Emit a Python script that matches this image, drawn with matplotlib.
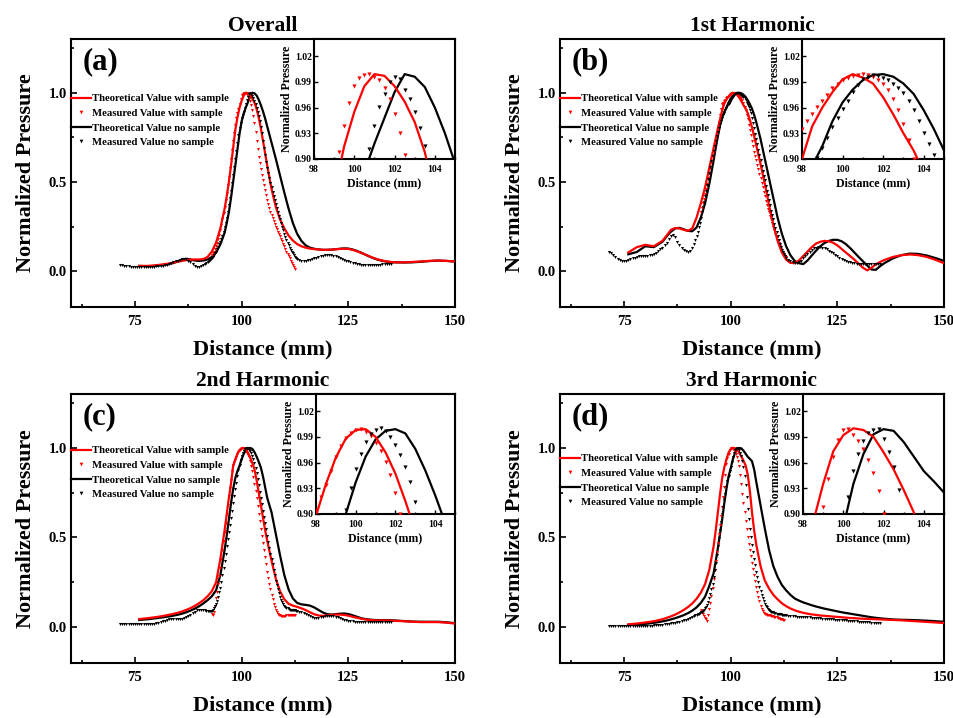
import numpy as np
import matplotlib.pyplot as plt
from matplotlib.ticker import MultipleLocator, AutoMinorLocator, FormatStrFormatter

plt.rcParams['font.family'] = ['Liberation Serif', 'DejaVu Serif']
plt.rcParams['font.weight'] = 'bold'
plt.rcParams['axes.labelweight'] = 'bold'
plt.rcParams['axes.titleweight'] = 'bold'
plt.rcParams['axes.linewidth'] = 1.5

# 理论曲线共用的横坐标 (mm)
theory_x = [76, 78, 80, 82, 84,
            85, 86, 87, 88, 89, 90, 91, 92, 93, 94, 95, 96,
            96.5, 97, 97.5, 98, 98.5, 99, 99.5, 100, 100.5, 101,
            101.5, 102, 102.5, 103, 103.5, 104, 104.5, 105, 105.5, 106,
            107, 108, 109, 110, 111, 112, 113, 114, 115, 116, 117, 118,
            119, 120, 121, 122, 123, 124, 125, 126, 127, 128, 129, 130,
            131, 132, 133, 134, 135, 136,
            138, 140, 142, 144, 146, 148, 150]

# 测量点: 有样品 93 mm 起步长 0.25 mm;
# 无样品分三段: 71.5 mm 起 0.5 mm, 91.75 mm 起 0.25 mm, 113.5 mm 起 0.5 mm
ms_start, ms_step = 93.0, 0.25
mn_starts = [71.5, 91.75, 113.5]
mn_steps = [0.5, 0.25, 0.5]

# ---------------- (a) Overall ----------------
ts_a = [0.030, 0.030, 0.034, 0.040, 0.048,
        0.053, 0.058, 0.062, 0.065, 0.066, 0.066, 0.068, 0.080, 0.110, 0.160, 0.240, 0.350,
        0.420, 0.500, 0.590, 0.690, 0.790, 0.860, 0.915, 0.955, 0.985, 0.999,
        0.997, 0.985, 0.967, 0.943, 0.908, 0.860, 0.800, 0.730, 0.660, 0.590,
        0.460, 0.360, 0.290, 0.240, 0.200, 0.172, 0.152, 0.140, 0.132, 0.127, 0.124, 0.122,
        0.120, 0.120, 0.121, 0.123, 0.125, 0.126, 0.125, 0.120, 0.112, 0.103, 0.093, 0.083,
        0.074, 0.066, 0.060, 0.055, 0.052, 0.050,
        0.050, 0.052, 0.055, 0.058, 0.060, 0.058, 0.055]
tn_a = [0.030, 0.028, 0.030, 0.036, 0.046,
        0.056, 0.066, 0.070, 0.066, 0.060, 0.058, 0.060, 0.066, 0.080, 0.105, 0.150, 0.215,
        0.270, 0.330, 0.410, 0.500, 0.590, 0.680, 0.770, 0.840, 0.885, 0.918,
        0.948, 0.978, 0.999, 0.996, 0.984, 0.960, 0.930, 0.895, 0.855, 0.810,
        0.720, 0.630, 0.535, 0.440, 0.350, 0.270, 0.210, 0.170, 0.145, 0.132, 0.126, 0.122,
        0.120, 0.120, 0.121, 0.123, 0.126, 0.128, 0.127, 0.122, 0.114, 0.104, 0.093, 0.082,
        0.072, 0.064, 0.058, 0.054, 0.051, 0.050,
        0.049, 0.050, 0.053, 0.057, 0.060, 0.058, 0.054]
ms_a = [0.090, 0.100, 0.110, 0.124, 0.140, 0.158, 0.180, 0.204, 0.230, 0.259,
        0.290, 0.324, 0.360, 0.399, 0.440, 0.484, 0.530, 0.580, 0.630, 0.680,
        0.730, 0.776, 0.820, 0.856, 0.884, 0.908, 0.938, 0.965, 0.985, 0.994,
        0.998, 0.999, 0.996, 0.992, 0.983, 0.970, 0.952, 0.930, 0.905, 0.870,
        0.830, 0.780, 0.730, 0.684, 0.640, 0.604, 0.570, 0.540, 0.510, 0.482,
        0.455, 0.427, 0.400, 0.377, 0.355, 0.334, 0.315, 0.297, 0.280, 0.265,
        0.250, 0.235, 0.220, 0.207, 0.195, 0.183, 0.170, 0.155, 0.140, 0.125,
        0.110, 0.097, 0.085, 0.072, 0.060, 0.047, 0.035, 0.022, 0.010]
mn_a_left = [0.037, 0.035, 0.032, 0.030, 0.028, 0.026, 0.025, 0.025,
             0.025, 0.025, 0.025, 0.025, 0.025, 0.025, 0.025, 0.025,
             0.026, 0.027, 0.028, 0.030, 0.032, 0.034, 0.037, 0.040,
             0.044, 0.050, 0.055, 0.060, 0.064, 0.068, 0.070, 0.068,
             0.060, 0.052, 0.040, 0.030, 0.025, 0.024, 0.027, 0.033,
             0.040]
mn_a_mid = [0.045, 0.050, 0.056, 0.062, 0.068, 0.075, 0.082, 0.090, 0.100, 0.110,
            0.122, 0.135, 0.150, 0.165, 0.182, 0.200, 0.221, 0.245, 0.271, 0.300,
            0.334, 0.370, 0.409, 0.450, 0.495, 0.540, 0.585, 0.630, 0.675, 0.720,
            0.762, 0.800, 0.832, 0.860, 0.877, 0.893, 0.912, 0.938, 0.961, 0.976,
            0.990, 0.996, 0.993, 0.981, 0.970, 0.955, 0.936, 0.915, 0.893, 0.870,
            0.842, 0.810, 0.772, 0.730, 0.690, 0.650, 0.614, 0.580, 0.549, 0.520,
            0.494, 0.470, 0.445, 0.420, 0.397, 0.375, 0.352, 0.330, 0.310, 0.290,
            0.270, 0.250, 0.230, 0.210, 0.192, 0.175, 0.160, 0.145, 0.132, 0.120,
            0.110, 0.100, 0.091, 0.082, 0.076, 0.070]
mn_a_right = [0.063, 0.060, 0.060, 0.060, 0.062, 0.065, 0.069, 0.073, 0.077, 0.081,
              0.084, 0.087, 0.089, 0.090, 0.090, 0.089, 0.087, 0.084, 0.080, 0.075,
              0.070, 0.065, 0.060, 0.055, 0.051, 0.047, 0.044, 0.041, 0.039, 0.037,
              0.036, 0.035, 0.035, 0.035, 0.035, 0.036, 0.036, 0.037, 0.037, 0.038,
              0.038, 0.039, 0.039, 0.040]

# ---------------- (b) 1st Harmonic ----------------
ts_b = [0.105, 0.135, 0.148, 0.140, 0.170,
        0.200, 0.232, 0.242, 0.240, 0.232, 0.226, 0.240, 0.300, 0.380, 0.470, 0.580, 0.690,
        0.745, 0.800, 0.850, 0.900, 0.938, 0.960, 0.978, 0.993, 0.999, 0.995,
        0.988, 0.972, 0.952, 0.930, 0.910, 0.885, 0.848, 0.805, 0.757, 0.705,
        0.600, 0.490, 0.370, 0.260, 0.170, 0.105, 0.065, 0.047, 0.045, 0.060, 0.085, 0.110,
        0.135, 0.155, 0.165, 0.170, 0.168, 0.160, 0.145, 0.125, 0.105, 0.085, 0.065, 0.042,
        0.020, 0.005, 0.020, 0.038, 0.052, 0.063,
        0.080, 0.090, 0.094, 0.090, 0.080, 0.064, 0.045]
tn_b = [0.095, 0.108, 0.140, 0.135, 0.165,
        0.195, 0.222, 0.240, 0.243, 0.235, 0.226, 0.224, 0.245, 0.300, 0.380, 0.490, 0.620,
        0.690, 0.755, 0.815, 0.862, 0.892, 0.915, 0.944, 0.966, 0.981, 0.992,
        0.998, 0.999, 0.996, 0.988, 0.976, 0.957, 0.935, 0.910, 0.875, 0.835,
        0.740, 0.630, 0.520, 0.410, 0.300, 0.210, 0.140, 0.090, 0.058, 0.045, 0.040, 0.060,
        0.088, 0.115, 0.140, 0.158, 0.170, 0.176, 0.176, 0.168, 0.152, 0.130, 0.105, 0.080,
        0.056, 0.032, 0.010, 0.008, 0.028, 0.045,
        0.072, 0.090, 0.099, 0.097, 0.088, 0.074, 0.058]
ms_b = [0.330, 0.355, 0.380, 0.405, 0.430, 0.460, 0.490, 0.520, 0.550, 0.580,
        0.610, 0.640, 0.670, 0.700, 0.730, 0.760, 0.790, 0.835, 0.875, 0.910,
        0.935, 0.944, 0.952, 0.961, 0.968, 0.975, 0.983, 0.988, 0.992, 0.995,
        0.997, 0.998, 0.999, 0.998, 0.996, 0.992, 0.988, 0.980, 0.970, 0.957,
        0.941, 0.922, 0.900, 0.876, 0.850, 0.820, 0.790, 0.760, 0.730, 0.700,
        0.670, 0.645, 0.620, 0.595, 0.570, 0.545, 0.520, 0.495, 0.470, 0.445,
        0.420, 0.395, 0.370, 0.350, 0.330, 0.310, 0.290, 0.270, 0.250, 0.230,
        0.210, 0.192, 0.175, 0.157, 0.140, 0.125, 0.110, 0.100, 0.090, 0.085,
        0.080]
mn_b_left = [0.110, 0.100, 0.090, 0.080, 0.070, 0.062, 0.058, 0.056,
             0.058, 0.062, 0.067, 0.072, 0.076, 0.080, 0.083, 0.085,
             0.086, 0.087, 0.088, 0.090, 0.093, 0.098, 0.105, 0.113,
             0.122, 0.132, 0.145, 0.160, 0.178, 0.195, 0.203, 0.190,
             0.165, 0.145, 0.130, 0.120, 0.112, 0.108, 0.115, 0.130,
             0.155]
mn_b_mid = [0.175, 0.195, 0.220, 0.245, 0.272, 0.300, 0.330, 0.360, 0.390, 0.420,
            0.452, 0.485, 0.518, 0.550, 0.583, 0.615, 0.646, 0.675, 0.703, 0.730,
            0.756, 0.780, 0.803, 0.825, 0.843, 0.860, 0.875, 0.888, 0.901, 0.913,
            0.925, 0.937, 0.948, 0.958, 0.968, 0.978, 0.986, 0.993, 0.996, 0.998,
            0.997, 0.995, 0.992, 0.988, 0.983, 0.977, 0.968, 0.957, 0.944, 0.930,
            0.918, 0.905, 0.885, 0.860, 0.830, 0.800, 0.770, 0.740, 0.710, 0.680,
            0.650, 0.620, 0.590, 0.560, 0.535, 0.510, 0.480, 0.450, 0.425, 0.400,
            0.370, 0.340, 0.315, 0.290, 0.265, 0.240, 0.217, 0.195, 0.175, 0.155,
            0.137, 0.120, 0.107, 0.095, 0.084, 0.075]
mn_b_right = [0.062, 0.055, 0.050, 0.047, 0.048, 0.052, 0.060, 0.072, 0.085, 0.098,
              0.110, 0.120, 0.128, 0.133, 0.135, 0.135, 0.133, 0.129, 0.123, 0.116,
              0.108, 0.100, 0.092, 0.084, 0.077, 0.070, 0.064, 0.059, 0.054, 0.050,
              0.047, 0.045, 0.043, 0.042, 0.041, 0.040, 0.040, 0.040, 0.040, 0.040,
              0.040, 0.040, 0.040, 0.040]

# ---------------- (c) 2nd Harmonic ----------------
ts_c = [0.045, 0.050, 0.056, 0.064, 0.074,
        0.080, 0.087, 0.096, 0.106, 0.118, 0.133, 0.150, 0.172, 0.200, 0.250, 0.380, 0.540,
        0.630, 0.720, 0.800, 0.898, 0.935, 0.966, 0.988, 0.998, 0.999, 0.990,
        0.972, 0.947, 0.915, 0.880, 0.820, 0.750, 0.680, 0.610, 0.540, 0.480,
        0.370, 0.270, 0.200, 0.155, 0.130, 0.120, 0.113, 0.105, 0.095, 0.083, 0.072, 0.065,
        0.063, 0.065, 0.068, 0.070, 0.070, 0.068, 0.064, 0.058, 0.052, 0.047, 0.043, 0.040,
        0.038, 0.037, 0.037, 0.037, 0.036, 0.035,
        0.033, 0.030, 0.028, 0.028, 0.028, 0.025, 0.020]
tn_c = [0.040, 0.044, 0.050, 0.056, 0.064,
        0.069, 0.075, 0.083, 0.092, 0.103, 0.116, 0.132, 0.150, 0.172, 0.205, 0.290, 0.430,
        0.510, 0.600, 0.690, 0.770, 0.830, 0.870, 0.900, 0.937, 0.967, 0.987,
        0.997, 0.999, 0.994, 0.976, 0.951, 0.922, 0.890, 0.840, 0.780, 0.720,
        0.640, 0.520, 0.400, 0.290, 0.210, 0.160, 0.135, 0.127, 0.124, 0.120, 0.110, 0.096,
        0.082, 0.073, 0.070, 0.072, 0.075, 0.076, 0.073, 0.066, 0.058, 0.050, 0.045, 0.042,
        0.040, 0.039, 0.039, 0.039, 0.038, 0.037,
        0.034, 0.031, 0.030, 0.030, 0.030, 0.027, 0.022]
ms_c = [0.075, 0.065, 0.085, 0.120, 0.160, 0.198, 0.240, 0.285, 0.330, 0.380,
        0.430, 0.480, 0.530, 0.580, 0.630, 0.680, 0.730, 0.776, 0.820, 0.870,
        0.905, 0.920, 0.934, 0.950, 0.966, 0.979, 0.989, 0.995, 0.998, 0.999,
        0.996, 0.991, 0.983, 0.973, 0.961, 0.946, 0.925, 0.900, 0.870, 0.837,
        0.800, 0.760, 0.720, 0.675, 0.630, 0.590, 0.550, 0.510, 0.470, 0.430,
        0.390, 0.350, 0.310, 0.275, 0.240, 0.210, 0.180, 0.155, 0.130, 0.110,
        0.095, 0.084, 0.075, 0.070, 0.066, 0.064, 0.063, 0.063, 0.064, 0.064,
        0.065, 0.065, 0.066, 0.066, 0.067, 0.067, 0.068, 0.069, 0.070]
mn_c_left = [0.018, 0.017, 0.016, 0.016, 0.015, 0.015, 0.015, 0.015,
             0.015, 0.015, 0.015, 0.015, 0.015, 0.016, 0.017, 0.018,
             0.020, 0.022, 0.025, 0.028, 0.032, 0.036, 0.040, 0.044,
             0.046, 0.046, 0.045, 0.043, 0.043, 0.045, 0.050, 0.056,
             0.063, 0.070, 0.078, 0.086, 0.093, 0.097, 0.098, 0.096,
             0.093]
mn_c_mid = [0.092, 0.091, 0.090, 0.090, 0.090, 0.092, 0.097, 0.105, 0.116, 0.130,
            0.148, 0.170, 0.194, 0.220, 0.253, 0.290, 0.330, 0.370, 0.410, 0.450,
            0.490, 0.530, 0.570, 0.610, 0.650, 0.690, 0.730, 0.770, 0.806, 0.840,
            0.874, 0.905, 0.930, 0.952, 0.970, 0.984, 0.993, 0.998, 1.000, 0.997,
            0.990, 0.981, 0.969, 0.955, 0.937, 0.914, 0.889, 0.860, 0.826, 0.790,
            0.755, 0.720, 0.685, 0.650, 0.615, 0.580, 0.545, 0.510, 0.475, 0.440,
            0.410, 0.380, 0.350, 0.320, 0.290, 0.260, 0.234, 0.210, 0.189, 0.170,
            0.154, 0.140, 0.129, 0.120, 0.113, 0.108, 0.104, 0.100, 0.098, 0.097,
            0.096, 0.095, 0.094, 0.093, 0.092, 0.090]
mn_c_right = [0.087, 0.083, 0.078, 0.072, 0.066, 0.060, 0.056, 0.053, 0.052, 0.053,
              0.055, 0.058, 0.061, 0.063, 0.064, 0.064, 0.062, 0.059, 0.055, 0.050,
              0.046, 0.042, 0.039, 0.036, 0.034, 0.032, 0.031, 0.030, 0.030, 0.030,
              0.030, 0.030, 0.030, 0.030, 0.030, 0.030, 0.030, 0.030, 0.030, 0.030,
              0.030, 0.030, 0.030, 0.030]

# ---------------- (d) 3rd Harmonic ----------------
ts_d = [0.016, 0.020, 0.026, 0.033, 0.044,
        0.052, 0.060, 0.070, 0.082, 0.096, 0.112, 0.132, 0.158, 0.192, 0.240, 0.320, 0.450,
        0.540, 0.640, 0.740, 0.830, 0.890, 0.935, 0.973, 0.992, 1.000, 0.998,
        0.990, 0.972, 0.952, 0.928, 0.902, 0.850, 0.760, 0.640, 0.540, 0.460,
        0.340, 0.260, 0.215, 0.180, 0.155, 0.133, 0.117, 0.104, 0.094, 0.086, 0.080, 0.075,
        0.071, 0.068, 0.065, 0.063, 0.061, 0.059, 0.057, 0.055, 0.053, 0.051, 0.050, 0.048,
        0.047, 0.046, 0.045, 0.044, 0.043, 0.042,
        0.040, 0.038, 0.035, 0.032, 0.029, 0.026, 0.023]
tn_d = [0.012, 0.014, 0.018, 0.024, 0.032,
        0.037, 0.043, 0.050, 0.058, 0.067, 0.078, 0.092, 0.110, 0.135, 0.170, 0.230, 0.300,
        0.370, 0.440, 0.520, 0.600, 0.690, 0.770, 0.840, 0.885, 0.935, 0.970,
        0.993, 0.999, 0.997, 0.984, 0.967, 0.950, 0.938, 0.925, 0.880, 0.810,
        0.680, 0.550, 0.430, 0.340, 0.280, 0.235, 0.205, 0.180, 0.160, 0.148, 0.138, 0.130,
        0.122, 0.115, 0.109, 0.103, 0.098, 0.093, 0.088, 0.083, 0.079, 0.075, 0.071, 0.067,
        0.063, 0.059, 0.055, 0.052, 0.049, 0.047,
        0.043, 0.041, 0.040, 0.038, 0.036, 0.033, 0.030]
ms_d = [0.095, 0.085, 0.075, 0.063, 0.052, 0.043, 0.036, 0.065, 0.100, 0.135,
        0.175, 0.220, 0.270, 0.320, 0.370, 0.420, 0.470, 0.520, 0.570, 0.620,
        0.670, 0.725, 0.780, 0.850, 0.908, 0.941, 0.966, 0.986, 0.998, 0.999,
        0.992, 0.985, 0.976, 0.963, 0.948, 0.927, 0.900, 0.850, 0.800, 0.745,
        0.690, 0.640, 0.590, 0.545, 0.500, 0.465, 0.430, 0.395, 0.360, 0.325,
        0.290, 0.257, 0.225, 0.197, 0.170, 0.145, 0.120, 0.102, 0.088, 0.080,
        0.075, 0.072, 0.070, 0.068, 0.067, 0.065, 0.064, 0.062, 0.060, 0.058,
        0.056, 0.054, 0.052, 0.050, 0.048, 0.046, 0.044, 0.042, 0.040]
mn_d_left = [0.004, 0.004, 0.004, 0.004, 0.004, 0.004, 0.004, 0.004,
             0.004, 0.005, 0.005, 0.005, 0.005, 0.006, 0.006, 0.006,
             0.007, 0.007, 0.008, 0.008, 0.009, 0.010, 0.011, 0.012,
             0.013, 0.014, 0.015, 0.017, 0.019, 0.021, 0.023, 0.025,
             0.028, 0.031, 0.034, 0.038, 0.042, 0.046, 0.051, 0.056,
             0.062]
mn_d_mid = [0.065, 0.068, 0.071, 0.075, 0.079, 0.083, 0.087, 0.092, 0.098, 0.105,
            0.114, 0.125, 0.140, 0.160, 0.183, 0.210, 0.243, 0.280, 0.320, 0.360,
            0.405, 0.450, 0.495, 0.540, 0.585, 0.630, 0.670, 0.710, 0.745, 0.780,
            0.813, 0.845, 0.870, 0.893, 0.920, 0.950, 0.970, 0.985, 0.994, 0.998,
            0.999, 0.987, 0.972, 0.955, 0.928, 0.895, 0.845, 0.790, 0.725, 0.660,
            0.603, 0.550, 0.503, 0.460, 0.418, 0.380, 0.344, 0.310, 0.279, 0.250,
            0.224, 0.200, 0.179, 0.160, 0.144, 0.130, 0.119, 0.110, 0.102, 0.095,
            0.091, 0.087, 0.084, 0.082, 0.080, 0.078, 0.076, 0.075, 0.073, 0.072,
            0.071, 0.070, 0.069, 0.068, 0.067, 0.066]
mn_d_right = [0.064, 0.062, 0.061, 0.060, 0.059, 0.058, 0.058, 0.057, 0.056, 0.055,
              0.054, 0.053, 0.052, 0.051, 0.050, 0.049, 0.048, 0.047, 0.046, 0.045,
              0.044, 0.043, 0.042, 0.041, 0.040, 0.039, 0.038, 0.037, 0.036, 0.035,
              0.034, 0.033, 0.032, 0.031, 0.030, 0.029, 0.028, 0.027, 0.026, 0.025,
              0.024, 0.023, 0.023, 0.022]

titles = ['Overall', '1st Harmonic', '2nd Harmonic', '3rd Harmonic']
letters = ['(a)', '(b)', '(c)', '(d)']
theory_s = [ts_a, ts_b, ts_c, ts_d]
theory_n = [tn_a, tn_b, tn_c, tn_d]
meas_s = [ms_a, ms_b, ms_c, ms_d]
meas_n = [[mn_a_left, mn_a_mid, mn_a_right], [mn_b_left, mn_b_mid, mn_b_right],
          [mn_c_left, mn_c_mid, mn_c_right], [mn_d_left, mn_d_mid, mn_d_right]]
names = ['Theoretical Value with sample', 'Measured Value with sample',
         'Theoretical Value no sample', 'Measured Value no sample']


def grid(start, step, vals):
    return start + step * np.arange(len(vals))


def measured_no(i):
    xs = [grid(s, d, v) for s, d, v in zip(mn_starts, mn_steps, meas_n[i])]
    return np.concatenate(xs), np.concatenate(meas_n[i])


W, H = 954, 718
fig = plt.figure(figsize=(W / 100, H / 100), dpi=100)

# 像素框 (left, top, right, bottom)
main_box = [(71, 39, 455, 307), (560, 39, 944, 307), (71, 394, 455, 663), (560, 394, 944, 663)]
inset_box = [(314, 39, 455, 159), (802, 39, 944, 159), (316, 394, 455, 514), (803, 394, 944, 514)]
legend_top = [94, 94, 446, 454]


def rect(b):
    l, t, r, bt = b
    return [l / W, 1 - bt / H, (r - l) / W, (bt - t) / H]


def draw(ax, i, lw, ms):
    xn, yn = measured_no(i)
    ax.plot(theory_x, theory_s[i], color='red', lw=lw, label=names[0], zorder=3)
    ax.plot(grid(ms_start, ms_step, meas_s[i]), meas_s[i], ls='none', marker='v', ms=ms,
            color='red', mec='red', mew=0, label=names[1], zorder=4)
    ax.plot(theory_x, theory_n[i], color='black', lw=lw, label=names[2], zorder=2)
    ax.plot(xn, yn, ls='none', marker='v', ms=ms,
            color='black', mec='black', mew=0, label=names[3], zorder=4)


for i in range(4):
    ax = fig.add_axes(rect(main_box[i]))
    draw(ax, i, 1.6, 2.2)
    ax.set_xlim(60, 150)
    ax.set_ylim(-0.2, 1.3)
    ax.xaxis.set_major_locator(MultipleLocator(25))
    ax.xaxis.set_minor_locator(AutoMinorLocator(2))
    ax.yaxis.set_major_locator(MultipleLocator(0.5))
    ax.yaxis.set_minor_locator(AutoMinorLocator(2))
    ax.tick_params(which='both', direction='in', width=1.2, labelsize=10.5)
    ax.tick_params(which='major', length=4)
    ax.tick_params(which='minor', length=2.5)
    ax.tick_params(axis='x', pad=6)
    ax.tick_params(axis='y', pad=3)
    ax.set_xlabel('Distance (mm)', fontsize=16, labelpad=8)
    ax.set_ylabel('Normalized Pressure', fontsize=16, labelpad=9)
    ax.set_title(titles[i], fontsize=15.5, pad=6)
    ax.text(0.031, 0.914, letters[i], transform=ax.transAxes, fontsize=22,
            ha='left', va='center')
    l, t, r, bt = main_box[i]
    ax.legend(loc='upper left', bbox_to_anchor=(0, (bt - legend_top[i]) / (bt - t)),
              frameon=False, fontsize=7.7, handlelength=1.9, handletextpad=0.1,
              borderpad=0, borderaxespad=0, labelspacing=0.47, numpoints=1,
              markerscale=1.2)

    ins = fig.add_axes(rect(inset_box[i]))
    draw(ins, i, 1.6, 3.0)
    ins.set_xlim(98, 105)
    ins.set_ylim(0.90, 1.04)
    ins.set_xticks([98, 100, 102, 104])
    ins.set_yticks([0.90, 0.93, 0.96, 0.99, 1.02])
    ins.xaxis.set_minor_locator(AutoMinorLocator(2))
    ins.yaxis.set_major_formatter(FormatStrFormatter('%.2f'))
    ins.tick_params(which='both', direction='in', width=1.0, labelsize=7.0)
    ins.tick_params(which='major', length=3)
    ins.tick_params(which='minor', length=1.8)
    ins.tick_params(axis='x', pad=4)
    ins.tick_params(axis='y', pad=1.5)
    ins.set_xlabel('Distance (mm)', fontsize=8.6, labelpad=2.5)
    ins.set_ylabel('Normalized Pressure', fontsize=8.6, labelpad=1.5)

fig.savefig('out.png', dpi=100)
